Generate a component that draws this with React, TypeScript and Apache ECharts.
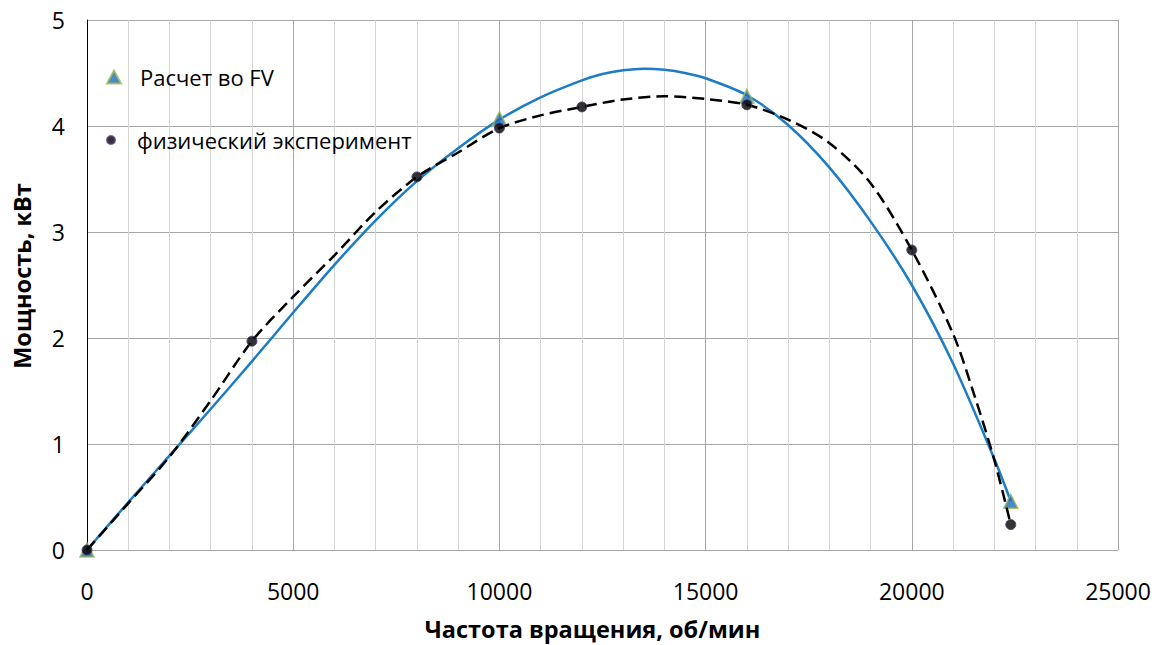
import React, { useEffect, useRef } from "react";
import * as echarts from "echarts";

// Tick labels / axis bounds
const X_MIN = 0;
const X_MAX = 25000;
const X_STEP = 1000;
const X_LABEL_STEP = 5000;
const Y_MIN = 0;
const Y_MAX = 5;
const Y_STEP = 1;

// Series: "Расчет во FV" markers
const fvRpm = [0, 10000, 16000, 22400];
const fvPower = [0, 4.07, 4.28, 0.46];

// Series: blue calculated curve
const fvCurveRpm = [0, 1000, 2000, 3000, 4000, 5000, 6000, 7000, 8000, 9000, 10000, 11000, 12000, 12500, 13000, 13500, 14000, 14500, 15000, 16000, 17000, 18000, 19000, 20000, 21000, 22000, 22400];
const fvCurvePower = [0, 0.45, 0.89, 1.33, 1.78, 2.24, 2.69, 3.11, 3.48, 3.79, 4.06, 4.27, 4.43, 4.49, 4.525, 4.54, 4.53, 4.5, 4.45, 4.29, 4.01, 3.61, 3.1, 2.5, 1.76, 0.86, 0.46];

// Series: "физический эксперимент" markers
const expRpm = [0, 4000, 8000, 10000, 12000, 16000, 20000, 22400];
const expPower = [0, 1.97, 3.52, 3.98, 4.18, 4.2, 2.83, 0.24];

const expCurveRpm = [0, 1000, 2000, 3000, 4000, 5000, 6000, 7000, 8000, 9000, 10000, 11000, 12000, 13000, 14000, 15000, 16000, 17000, 18000, 19000, 20000, 21000, 21500, 22000, 22400];
const expCurvePower = [0, 0.44, 0.88, 1.41, 1.97, 2.39, 2.78, 3.19, 3.52, 3.75, 3.98, 4.1, 4.18, 4.25, 4.28, 4.255, 4.2, 4.06, 3.84, 3.46, 2.83, 2.04, 1.48, 0.85, 0.24];

const NAME_FV = "Расчет во FV";
const NAME_EXP = "физический эксперимент";
const X_TITLE = "Частота вращения, об/мин";
const Y_TITLE = "Мощность, кВт";

const zip = (xs: number[], ys: number[]) => xs.map((x, i) => [x, ys[i]]);

const FONT = "Open Sans";

export default function App() {
  const ref = useRef<HTMLDivElement>(null);

  useEffect(() => {
    if (!ref.current) return;
    const chart = echarts.init(ref.current, undefined, { renderer: "svg" });
    const major = "#a6a6a6";
    const minor = "#d4d4d4";
    chart.setOption({
      animation: false,
      backgroundColor: "#ffffff",
      textStyle: { fontFamily: FONT },
      grid: { left: 87, right: 42, top: 20, bottom: 95, outerBoundsMode: "none", containLabel: false },
      legend: [
        {
          left: 106,
          top: 66,
          padding: 0,
          itemWidth: 14,
          itemHeight: 13,
          selectedMode: false,
          textStyle: { fontSize: 22, color: "#000", fontFamily: FONT, padding: [0, 0, 0, 14] },
          data: [{ name: NAME_FV, icon: "triangle" }],
        },
        {
          left: 106,
          top: 129,
          padding: 0,
          itemWidth: 14,
          itemHeight: 8,
          selectedMode: false,
          textStyle: { fontSize: 22, color: "#000", fontFamily: FONT, padding: [0, 0, 0, 14] },
          data: [{ name: NAME_EXP, icon: "circle" }],
        },
      ],
      xAxis: {
        type: "value",
        min: X_MIN,
        max: X_MAX,
        interval: X_STEP,
        name: X_TITLE,
        nameLocation: "middle",
        nameGap: 67,
        nameTextStyle: { fontSize: 23.5, fontWeight: "bold", color: "#000", fontFamily: FONT, padding: [0, 20, 0, 0] },
        axisLine: { show: false },
        axisTick: { show: false },
        axisLabel: {
          margin: 29,
          fontSize: 23,
          color: "#000",
          fontFamily: FONT,
          formatter: (v: number) => (v % X_LABEL_STEP === 0 ? String(v) : ""),
        },
        splitLine: {
          show: true,
          lineStyle: { color: [major, minor, minor, minor, minor], width: 1 },
        },
      },
      yAxis: {
        type: "value",
        min: Y_MIN,
        max: Y_MAX,
        interval: Y_STEP,
        name: Y_TITLE,
        nameLocation: "middle",
        nameGap: 53,
        nameTextStyle: { fontSize: 23.5, fontWeight: "bold", color: "#000", fontFamily: FONT, padding: [0, 0, 0, 18] },
        axisLine: { show: true, lineStyle: { color: "#000", width: 1 } },
        axisTick: { show: false },
        axisLabel: { margin: 22, fontSize: 23, color: "#000", fontFamily: FONT },
        splitLine: { show: true, lineStyle: { color: major, width: 1 } },
      },
      series: [
        {
          name: "FV curve",
          type: "line",
          smooth: 0.3,
          showSymbol: false,
          symbol: "none",
          silent: true,
          data: zip(fvCurveRpm, fvCurvePower),
          lineStyle: { color: "#1c7cc5", width: 2.5 },
          z: 2,
        },
        {
          name: NAME_FV,
          type: "scatter",
          symbol: "triangle",
          symbolSize: 14,
          data: zip(fvRpm, fvPower),
          itemStyle: { color: "#1f6db5", borderColor: "#9bbb59", borderWidth: 1.5 },
          z: 3,
        },
        {
          name: "EXP curve",
          type: "line",
          smooth: 0.3,
          showSymbol: false,
          symbol: "none",
          silent: true,
          data: zip(expCurveRpm, expCurvePower),
          lineStyle: { color: "#000", width: 2.5, type: [12, 6] },
          z: 4,
        },
        {
          name: NAME_EXP,
          type: "scatter",
          symbol: "circle",
          symbolSize: 10,
          data: zip(expRpm, expPower),
          itemStyle: { color: "#000", borderColor: "#4b3470", borderWidth: 1 },
          z: 5,
        },
      ],
    });
    return () => chart.dispose();
  }, []);

  return (
    <div
      ref={ref}
      style={{ position: "fixed", left: 0, top: 0, width: 1160, height: 645, background: "#fff" }}
    />
  );
}
